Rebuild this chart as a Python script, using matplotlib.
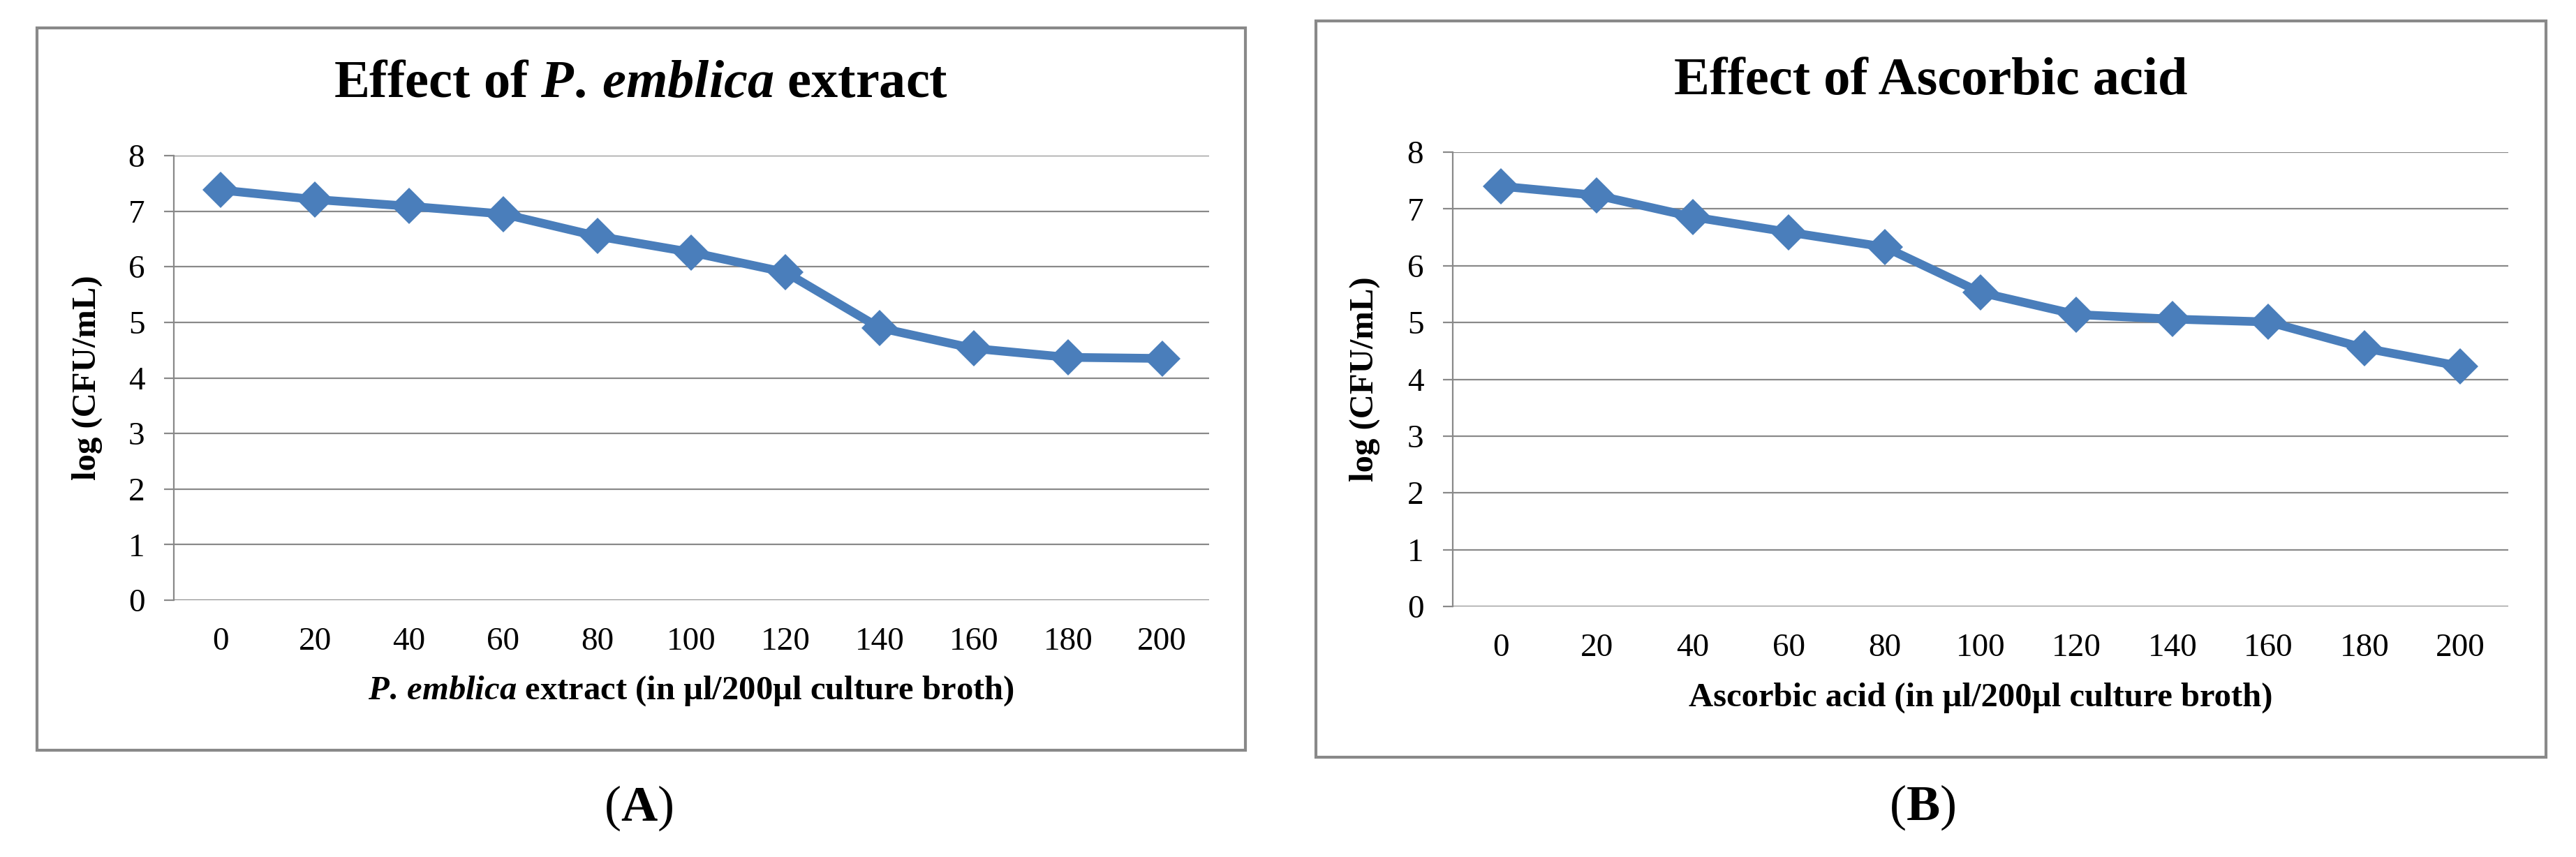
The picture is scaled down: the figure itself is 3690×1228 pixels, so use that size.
import matplotlib
matplotlib.use("Agg")
import matplotlib.pyplot as plt
from matplotlib.patches import Rectangle

plt.rcParams['font.family'] = ['Liberation Serif', 'DejaVu Serif']
plt.rcParams['mathtext.fontset'] = 'custom'
plt.rcParams['mathtext.it'] = 'Liberation Serif:italic:bold'
plt.rcParams['mathtext.rm'] = 'Liberation Serif:bold'
plt.rcParams['mathtext.bf'] = 'Liberation Serif:bold'

# data
doses = [0, 20, 40, 60, 80, 100, 120, 140, 160, 180, 200]
emblica = [7.38, 7.21, 7.09, 6.95, 6.55, 6.26, 5.90, 4.90, 4.53, 4.37, 4.35]
ascorbic = [7.40, 7.24, 6.86, 6.59, 6.33, 5.53, 5.14, 5.06, 5.01, 4.55, 4.23]

W, H = 3691, 1228
fig = plt.figure(figsize=(W / 100, H / 100), dpi=100)

grey = '#898989'
blue = '#4a7ebb'


def px_rect(x0, y0, x1, y1):
    return [x0 / W, 1 - y1 / H, (x1 - x0) / W, (y1 - y0) / H]


def panel(ax_rect, box, values, title, xlabel, title_y, xlabel_y, letter, letter_xy):
    b = px_rect(*box)
    fig.patches.append(Rectangle((b[0], b[1]), b[2], b[3], transform=fig.transFigure,
                                 fill=False, ec=grey, lw=3))
    ax = fig.add_axes(px_rect(*ax_rect))
    x = list(range(len(doses)))
    ax.plot(x, values, color=blue, lw=9, marker='D', ms=26, mew=0,
            solid_joinstyle='round', zorder=3)
    ax.set_xlim(-0.5, len(doses) - 0.5)
    ax.set_ylim(0, 8)
    ax.set_yticks(range(0, 9))
    ax.set_xticks(x)
    ax.set_xticklabels([str(d) for d in doses])
    ax.yaxis.grid(True, color=grey, lw=1.6)
    ax.set_axisbelow(True)
    for s in ['top', 'right', 'bottom']:
        ax.spines[s].set_visible(False)
    ax.spines['left'].set_color(grey)
    ax.spines['left'].set_linewidth(1.6)
    ax.tick_params(axis='y', length=10, width=1.6, color=grey, pad=20, labelsize=34)
    ax.tick_params(axis='x', length=0, pad=28, labelsize=34)
    ax.set_ylabel('log (CFU/mL)', fontsize=35, fontweight='bold')
    ax.yaxis.set_label_coords(-0.069, 0.5)
    cx = (box[0] + box[2]) / 2 / W
    fig.text(cx, 1 - title_y / H, title, fontsize=55, fontweight='bold',
             ha='center', va='center')
    axc = (ax_rect[0] + ax_rect[2]) / 2 / W
    fig.text(axc, 1 - xlabel_y / H, xlabel, fontsize=35, fontweight='bold',
             ha='center', va='center')
    fig.text(letter_xy[0] / W, 1 - letter_xy[1] / H, letter, fontsize=52,
             ha='center', va='center')
    return ax


panel((249, 223, 1732, 860), (53, 40, 1784, 1075), emblica,
      r'Effect of $\mathit{P.\,emblica}$ extract',
      r'$\mathit{P.\,emblica}$ extract (in µl/200µl culture broth)',
      121, 990, r'($\mathbf{A}$)', (915, 1158))

panel((2081, 218, 3593, 869), (1885, 30, 3647, 1085), ascorbic,
      'Effect of Ascorbic acid',
      'Ascorbic acid (in µl/200µl culture broth)',
      116, 1000, r'($\mathbf{B}$)', (2754, 1157))

fig.savefig('out.png', dpi=100, facecolor='white')
